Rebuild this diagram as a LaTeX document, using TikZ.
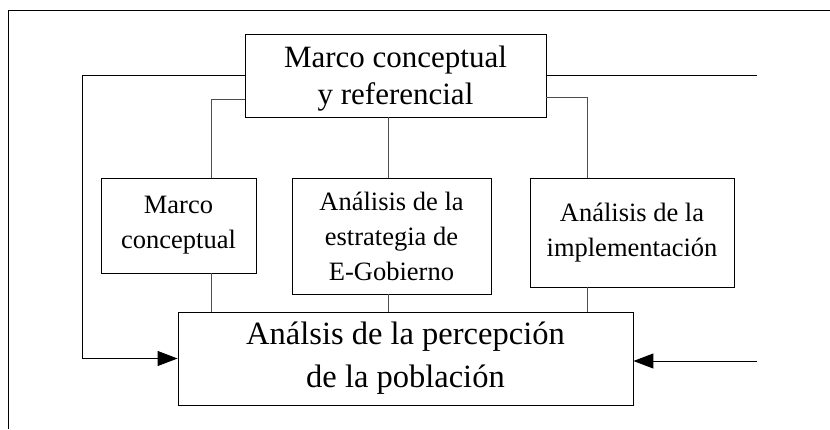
\documentclass[tikz,border=0pt]{standalone}
\usepackage{fontspec}
\setmainfont{Liberation Serif}
\usetikzlibrary{arrows.meta}
\begin{document}
\begin{tikzpicture}[x=1pt,y=-1pt,
  box/.style={draw,line width=0.9pt,inner sep=0pt,align=center},
  main/.style={line width=1pt},
  thinline/.style={line width=0.5pt,draw=black!70},
  arr/.style={main,-{Triangle[length=20pt,width=15pt]}},
  bigtxt/.style={font=\fontsize{31}{37}\selectfont},
  huge/.style={font=\fontsize{32.5}{43}\selectfont},
  smalltxt/.style={font=\fontsize{26.5}{35}\selectfont}]
\useasboundingbox (0,0) rectangle (830,429);
% frame
\draw[main] (8,429) -- (8,10) -- (830,10);
% boxes
\node[box,bigtxt,minimum width=301pt,minimum height=83pt,text depth=0pt] (top) at (395.5,75.5) {Marco conceptual\\y referencial};
\node[box,smalltxt,minimum width=155pt,minimum height=95pt] (lbox) at (178.5,225.5) {Marco\\conceptual};
\node[box,smalltxt,minimum width=199pt,minimum height=116pt] (mbox) at (391.5,236) {Análisis de la\\estrategia de\\E-Gobierno};
\node[box,smalltxt,minimum width=204pt,minimum height=109pt] (rbox) at (632,232.5) {Análisis de la\\implementación};
\node[box,huge,minimum width=455pt,minimum height=93pt] (bot) at (405.5,358.5) {Análsis de la percepción\\de la población};
% helper coordinates
\coordinate (lx) at (82,0);
\coordinate (rx) at (757,0);
\coordinate (c1) at (211,0);
\coordinate (c2) at (388,0);
\coordinate (c3) at (587,0);
\coordinate (rin) at (757,361);
% main connectors
\draw[arr] (top.west) -- (top.west -| lx) |- (bot.west);
\draw[main] (top.east) -- (top.east -| rx);
\draw[arr] (rin) -- (bot.east |- rin);
% thin connectors
\draw[thinline] ([yshift=18pt]top.south west) -| (lbox.north -| c1);
\draw[thinline] (top.south -| c2) -- (mbox.north -| c2);
\draw[thinline] ([yshift=20pt]top.south east) -| (rbox.north -| c3);
\draw[thinline] (lbox.south -| c1) -- (bot.north -| c1);
\draw[thinline] (mbox.south -| c2) -- (bot.north -| c2);
\draw[thinline] (rbox.south -| c3) -- (bot.north -| c3);
\end{tikzpicture}
\end{document}
